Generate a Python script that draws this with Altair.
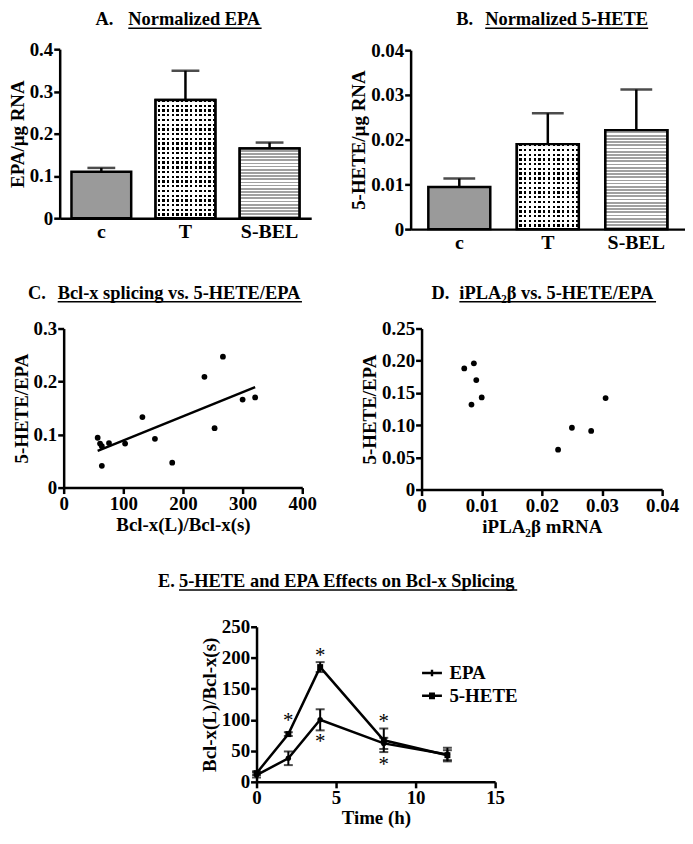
import altair as alt
import pandas as pd

# ---------------- data ----------------
groups = ["c", "T", "S-BEL"]
epa_mean = [0.110, 0.280, 0.165]
epa_err = [0.009, 0.069, 0.014]
hete_mean = [0.0094, 0.0190, 0.0221]
hete_err = [0.0019, 0.0069, 0.0091]

c_x = [57, 61, 64, 64, 76, 103, 132, 153, 182, 236, 253, 267, 300, 321]
c_y = [0.094, 0.083, 0.078, 0.041, 0.084, 0.083, 0.133, 0.092, 0.047, 0.209, 0.112, 0.247, 0.166, 0.170]

d_x = [0.0071, 0.0087, 0.0091, 0.0083, 0.0100, 0.0227, 0.0250, 0.0282, 0.0306]
d_y = [0.188, 0.196, 0.170, 0.132, 0.143, 0.062, 0.096, 0.091, 0.142]

times = [0, 2, 4, 8, 12]
e_epa = [11, 38, 100, 62, 44]
e_epa_err = [4, 11, 17, 9, 11]
e_hete = [14, 77, 185, 67, 43]
e_hete_err = [3, 3, 8, 19, 8]
series = ["EPA", "5-HETE"]

star_t = [2, 4, 4, 8, 8]
star_y = [105, 209, 70, 103, 33]

# ---------------- layout / style ----------------
SERIF = "Liberation Serif"
W, H = 680, 822
TFS = 18.5

XA, YA = (51, 304), (209, 39)
XB, YB = (404, 680), (220, 40)
XC, YC = (55, 295), (480, 320)
XD, YD = (415, 657), (482, 320)
XE, YE = (249, 489), (776, 620)

fills = ["#9a9a9a", "#ffffff", "#ffffff"]

TW = {' ': 250, '.': 250, '-': 333, '/': 278, '(': 333, ')': 333, 'A': 722, 'B': 667,
      'C': 722, 'D': 722, 'E': 667, 'H': 778, 'L': 667, 'N': 722, 'P': 611, 'S': 556,
      'T': 667, 'a': 500, 'c': 444, 'd': 556, 'e': 444, 'f': 333, 'g': 500, 'i': 278,
      'l': 278, 'm': 833, 'n': 556, 'o': 500, 'p': 556, 'r': 444, 's': 389, 't': 333,
      'v': 500, 'x': 500, 'z': 444, 'β': 556, '₂': 333}


def text_width(s, fs):
    return sum(TW.get(ch, 500) for ch in s) / 1000.0 * fs


def stripes(n, c1, c2, frac, vertical):
    """Hard-stop linear gradient giving n stripe periods across the bar."""
    stops = []
    for i in range(n):
        a, m, b = i / n, (i + frac) / n, (i + 1) / n
        stops += [alt.GradientStop(color=c1, offset=a), alt.GradientStop(color=c1, offset=m),
                  alt.GradientStop(color=c2, offset=m), alt.GradientStop(color=c2, offset=b)]
    if vertical:
        return alt.LinearGradient(gradient="linear", stops=stops, x1=0, x2=1, y1=0, y2=0)
    return alt.LinearGradient(gradient="linear", stops=stops, x1=0, x2=0, y1=0, y2=1)


def xaxis(ypos, **kw):
    return alt.Axis(orient="bottom", offset=ypos - H, **kw)


def yaxis(xpos, **kw):
    return alt.Axis(orient="left", offset=-xpos, **kw)


def qscale(dom, rng):
    return alt.Scale(domain=list(dom), range=list(rng), nice=False, zero=False)


def panel_title(letter, text, x_letter, x_text, y_base):
    df = pd.DataFrame({"letter": [letter], "text": [text]})
    base = alt.Chart(df)
    style = dict(align="left", baseline="alphabetic", font=SERIF, fontSize=TFS,
                 fontWeight="bold", color="black")
    t1 = base.mark_text(**style).encode(x=alt.value(x_letter), y=alt.value(y_base), text="letter:N")
    t2 = base.mark_text(**style).encode(x=alt.value(x_text), y=alt.value(y_base), text="text:N")
    w = text_width(text, TFS)
    ul = base.mark_rule(color="black", strokeWidth=1.5).encode(
        x=alt.value(x_text), x2=alt.value(x_text + w), y=alt.value(y_base + 3))
    return [t1, t2, ul]


def bar_panel(means, errs, XR, YR, ymax, yvals, yfmt, ytitle, pin, pout, cap):
    df = pd.DataFrame({"g": groups, "v": means, "e": errs})
    base = alt.Chart(df).transform_calculate(top="datum.v + datum.e")

    def X(axis=None):
        return alt.X("g:N", sort=groups,
                     scale=alt.Scale(domain=groups, range=list(XR), paddingInner=pin,
                                     paddingOuter=pout),
                     axis=axis)

    def Y(field, axis=None):
        return alt.Y(field, scale=qscale((0, ymax), YR), axis=axis)

    # pattern densities (texture only) from the panel's pixel size
    step = (XR[1] - XR[0]) / (len(groups) - pin + 2 * pout)
    bw = step * (1 - pin)
    px = (YR[0] - YR[1]) / ymax
    hT = means[1] * px
    hS = means[2] * px

    bars = base.mark_bar(stroke="black", strokeWidth=2.5).encode(
        x=X(xaxis(YR[0], title=None, ticks=False, labelAngle=0, labelFontSize=20,
                  labelPadding=3)),
        y=Y("v:Q", yaxis(XR[0], title=ytitle, values=yvals, format=yfmt)),
        color=alt.Color("g:N", scale=alt.Scale(domain=groups, range=fills), legend=None))
    s_bar = base.transform_filter(alt.datum.g == groups[2]).mark_bar(
        fill=stripes(max(1, round(hS / 3.2)), "#ffffff", "#a0a0a0", 0.45, False),
        stroke="black", strokeWidth=2.5).encode(x=X(), y=Y("v:Q"))
    t_cols = base.transform_filter(alt.datum.g == groups[1]).mark_bar(
        fill=stripes(max(1, round(bw / 4.8)), "#ffffff", "#000000", 0.5, True),
        strokeWidth=0).encode(x=X(), y=Y("v:Q"))
    t_rows = base.transform_filter(alt.datum.g == groups[1]).mark_bar(
        fill=stripes(max(1, round(hT / 4.8)), "rgba(255,255,255,0)", "#ffffff", 0.5, False),
        stroke="black", strokeWidth=2.5).encode(x=X(), y=Y("v:Q"))
    err = base.mark_rule(color="black", strokeWidth=2.5).encode(
        x=X(), y=Y("v:Q"), y2="top:Q")
    caps = base.mark_tick(orient="horizontal", size=cap, thickness=2.5, color="black").encode(
        x=X(), y=Y("top:Q"))
    return [bars, s_bar, t_cols, t_rows, err, caps]


layersA = bar_panel(epa_mean, epa_err, XA, YA, 0.4, [0, 0.1, 0.2, 0.3, 0.4], ".1~f",
                    "EPA/µg RNA", 0.29, 0.14, 28)
layersB = bar_panel(hete_mean, hete_err, XB, YB, 0.04, [0, 0.01, 0.02, 0.03, 0.04], ".2~f",
                    "5-HETE/µg RNA", 0.30, 0.20, 32)

# ---- panel C ----
dfC = pd.DataFrame({"x": c_x, "y": c_y})
ptsC = alt.Chart(dfC).mark_circle(size=34, color="black", opacity=1).encode(
    x=alt.X("x:Q", scale=qscale((0, 400), XC),
            axis=xaxis(YC[0], title="Bcl-x(L)/Bcl-x(s)", values=[0, 100, 200, 300, 400],
                       titlePadding=2)),
    y=alt.Y("y:Q", scale=qscale((0, 0.3), YC),
            axis=yaxis(XC[0], title="5-HETE/EPA", values=[0, 0.1, 0.2, 0.3], format=".1~f")))
regC = alt.Chart(dfC).transform_regression("x", "y").mark_line(color="black", strokeWidth=2.5).encode(
    x=alt.X("x:Q", scale=qscale((0, 400), XC), axis=None),
    y=alt.Y("y:Q", scale=qscale((0, 0.3), YC), axis=None))

# ---- panel D ----
dfD = pd.DataFrame({"x": d_x, "y": d_y})
ptsD = alt.Chart(dfD).mark_circle(size=34, color="black", opacity=1).encode(
    x=alt.X("x:Q", scale=qscale((0, 0.04), XD),
            axis=xaxis(YD[0], title="iPLA₂β mRNA", values=[0, 0.01, 0.02, 0.03, 0.04],
                       format=".2~f", titlePadding=2)),
    y=alt.Y("y:Q", scale=qscale((0, 0.25), YD),
            axis=yaxis(XD[0], title="5-HETE/EPA", values=[0, 0.05, 0.10, 0.15, 0.20, 0.25],
                       labelExpr="datum.value == 0 ? '0' : format(datum.value, '.2f')")))

# ---- panel E ----
dfE = pd.DataFrame({"t": times + times, "m": e_epa + e_hete, "e": e_epa_err + e_hete_err,
                    "s": [series[0]] * len(times) + [series[1]] * len(times)})
baseE = alt.Chart(dfE).transform_calculate(lo="datum.m - datum.e", hi="datum.m + datum.e")


def XEn(axis=None):
    return alt.X("t:Q", scale=qscale((0, 15), XE), axis=axis)


def YEn(field, axis=None):
    return alt.Y(field, scale=qscale((0, 250), YE), axis=axis)


linesE = baseE.mark_line(color="black", strokeWidth=2.5).encode(
    x=XEn(xaxis(YE[0], title="Time (h)", values=[0, 5, 10, 15], titlePadding=1)),
    y=YEn("m:Q", yaxis(XE[0], title="Bcl-x(L)/Bcl-x(s)", values=[0, 50, 100, 150, 200, 250])),
    detail="s:N")
errE = baseE.mark_rule(color="black", strokeWidth=2).encode(x=XEn(), y=YEn("lo:Q"), y2="hi:Q")
capLo = baseE.mark_tick(orient="horizontal", size=9, thickness=2, color="black").encode(
    x=XEn(), y=YEn("lo:Q"))
capHi = baseE.mark_tick(orient="horizontal", size=9, thickness=2, color="black").encode(
    x=XEn(), y=YEn("hi:Q"))
ptEPA = baseE.transform_filter(alt.datum.s == "EPA").mark_circle(
    size=30, color="black", opacity=1).encode(x=XEn(), y=YEn("m:Q"))
ptHETE = baseE.transform_filter(alt.datum.s == "5-HETE").mark_square(
    size=36, color="black", opacity=1).encode(x=XEn(), y=YEn("m:Q"))
dfS = pd.DataFrame({"t": star_t, "y": star_y})
starsE = alt.Chart(dfS).mark_text(text="*", font=SERIF, fontSize=21, fill="black",
                                  baseline="alphabetic", dy=10).encode(
    x=XEn(), y=YEn("y:Q"))
# legend symbols: line segment plus a marker built from short strokes
path_epa = "M-1,0L1,0M-0.12,-0.2L0.12,-0.2M-0.26,0L0.26,0M-0.12,0.2L0.12,0.2"
path_hete = "M-1,0L1,0M-0.3,-0.22L0.3,-0.22M-0.3,0L0.3,0M-0.3,0.22L0.3,0.22"
legE = baseE.mark_point(filled=False, opacity=0, color="black", strokeWidth=2.5).encode(
    x=XEn(), y=YEn("m:Q"),
    shape=alt.Shape("s:N", scale=alt.Scale(domain=series, range=[path_epa, path_hete]),
                    legend=alt.Legend(title=None, orient="none", legendX=414, legendY=655,
                                      symbolSize=400, symbolStrokeWidth=2.5,
                                      symbolStrokeColor="black", symbolOpacity=1,
                                      labelFont=SERIF, labelFontSize=19,
                                      labelFontWeight="bold", labelColor="black",
                                      labelOffset=6, rowPadding=1, padding=0)))

titles = []
titles += panel_title("A.", "Normalized EPA", 87, 120, 15)
titles += panel_title("B.", "Normalized 5-HETE", 450, 479, 15)
titles += panel_title("C.", "Bcl-x splicing vs. 5-HETE/EPA", 19, 49, 290)
titles += panel_title("D.", "iPLA₂β vs. 5-HETE/EPA", 425, 453, 290)
titles += panel_title("E.", "5-HETE and EPA Effects on Bcl-x Splicing", 150, 171, 580)

all_layers = (layersA + layersB + [ptsC, regC, ptsD, linesE, errE, capLo, capHi,
                                   ptEPA, ptHETE, starsE, legE] + titles)

chart = alt.layer(*all_layers).resolve_scale(
    x="independent", y="independent"
).properties(width=W, height=H, padding=0).configure_view(strokeWidth=0).configure_axis(
    grid=False, domainColor="black", domainWidth=2.5, tickColor="black", tickWidth=2.5,
    tickSize=6, labelFont=SERIF, labelFontSize=19, labelFontWeight="bold", labelColor="black",
    labelPadding=1, labelFlush=False, labelOverlap=False, titleFont=SERIF, titleFontSize=19,
    titleFontWeight="bold", titleColor="black", titlePadding=2
)

chart.save("out.html", embed_options={"renderer": "svg", "actions": False})
